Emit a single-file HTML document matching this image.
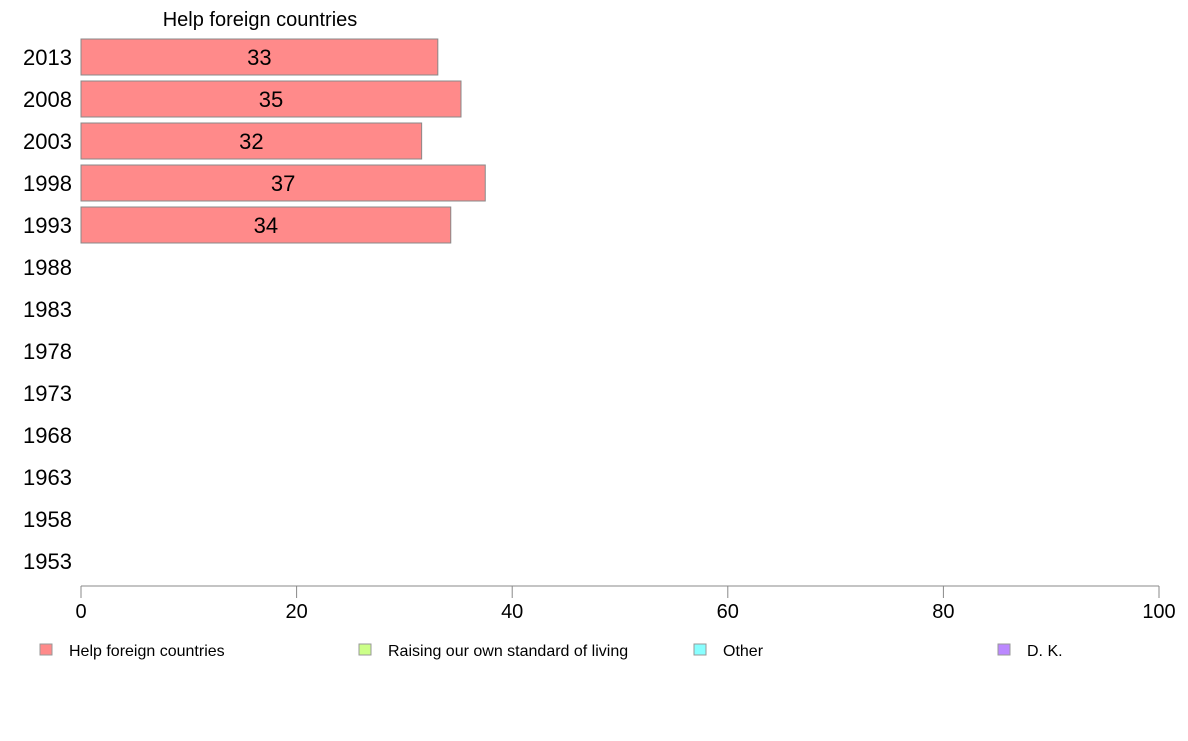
<!DOCTYPE html>
<html><head><meta charset="utf-8"><style>
body{margin:0;background:#fff;width:1188px;height:736px;overflow:hidden;font-family:"Liberation Sans",sans-serif}
</style></head><body>
<svg id="chart" width="1188" height="736" xmlns="http://www.w3.org/2000/svg">
<text x="260" y="26" font-size="20" text-anchor="middle" font-family="Liberation Sans, sans-serif">Help foreign countries</text>
</svg>
<script>
const years = ["2013","2008","2003","1998","1993","1988","1983","1978","1973","1968","1963","1958","1953"];
const helpValues = [33.1, 35.25, 31.6, 37.5, 34.3, null, null, null, null, null, null, null, null];
const barLabels = ["33","35","32","37","34"];
const xTicks = [0,20,40,60,80,100];
const legendNames = ["Help foreign countries","Raising our own standard of living","Other","D. K."];
const legendColors = ["#ff8a8a","#ccff88","#88ffff","#bb88ff"];

const svg = document.getElementById('chart');
const NS = "http://www.w3.org/2000/svg";
const x = v => 81 + v * 10.78;
const y = i => 57 + i * 42;
function mk(tag, attrs){const e=document.createElementNS(NS,tag);for(const k in attrs)e.setAttribute(k,attrs[k]);svg.appendChild(e);return e;}

years.forEach((yr,i)=>{
  const t = mk('text',{x:72,y:y(i)+8,'font-size':22,'text-anchor':'end'});
  t.textContent = yr;
  
  
  const v = helpValues[i];
  if(v!=null){
    const r = mk('rect',{x:x(0),y:y(i)-18,width:x(v)-x(0),height:36,fill:'#ff8a8a',stroke:'#888','stroke-width':1});
    
    
    const l = mk('text',{x:(x(0)+x(v))/2,y:y(i)+8,'font-size':22,'text-anchor':'middle'});
    l.textContent = barLabels[i];
    
    
  }
});
const ax = mk('line',{x1:x(0),x2:x(100),y1:586,y2:586,stroke:'#888','stroke-width':1});


xTicks.forEach(v=>{
  const tk = mk('line',{x1:x(v),x2:x(v),y1:586,y2:598,stroke:'#888','stroke-width':1});
  
  
  const t = mk('text',{x:x(v),y:618,'font-size':20,'text-anchor':'middle'});
  t.textContent = v;
  
  
});
const legX = [40,359,694,998];
legendNames.forEach((n,i)=>{
  const r = mk('rect',{x:legX[i],y:644,width:12,height:11,fill:legendColors[i],stroke:'#999','stroke-width':1});
  
  
  const t = mk('text',{x:legX[i]+29,y:656,'font-size':16});
  t.textContent = n;
  
  
});
</script>
</body></html>
